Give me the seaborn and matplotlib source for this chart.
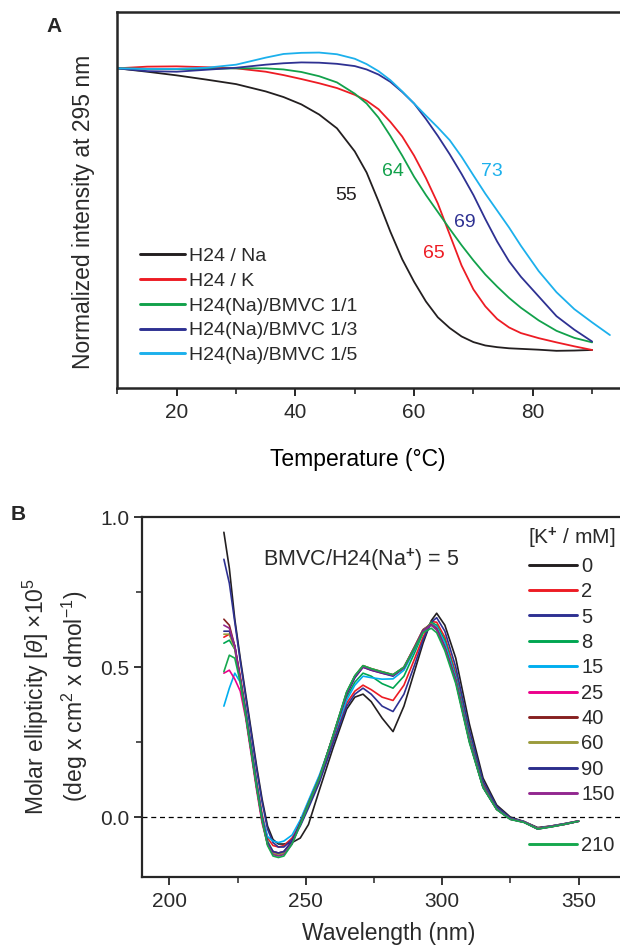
import numpy as np
import pandas as pd
import matplotlib
matplotlib.use("Agg")
import matplotlib.pyplot as plt
from matplotlib.lines import Line2D
from matplotlib.ticker import MultipleLocator, FormatStrFormatter
import seaborn as sns

# ---------------- Panel A data (normalized intensity at 295 nm) ----------------
temp_c = [10, 15, 20, 25, 30, 35, 38, 41, 44, 47, 50, 52, 54, 56, 58, 60, 62, 64,
          66, 68, 70, 72, 74, 76, 78, 81, 84, 87, 90, 93]
a_names = ["H24 / Na", "H24 / K", "H24(Na)/BMVC 1/1", "H24(Na)/BMVC 1/3",
           "H24(Na)/BMVC 1/5"]
a_colors = ["#231f20", "#ed1c24", "#12a14b", "#2e3192", "#1cb0ec"]
h24_na = [1.0, 0.988, 0.975, 0.96, 0.944, 0.918, 0.898, 0.872, 0.836, 0.787,
          0.705, 0.63, 0.528, 0.42, 0.322, 0.242, 0.172, 0.116, 0.078, 0.048,
          0.028, 0.016, 0.01, 0.006, 0.004, 0.001, -0.003, -0.002, 0.0, None]
h24_k = [1.0, 1.006, 1.007, 1.004, 1.0, 0.988, 0.976, 0.962, 0.947, 0.93, 0.906,
         0.885, 0.855, 0.81, 0.758, 0.69, 0.61, 0.52, 0.41, 0.30, 0.215, 0.155,
         0.11, 0.08, 0.06, 0.042, 0.027, 0.013, 0.0, None]
bmvc_11 = [1.0, 0.998, 0.997, 0.998, 1.0, 1.0, 0.996, 0.987, 0.972, 0.95, 0.91,
           0.875, 0.825, 0.76, 0.69, 0.615, 0.55, 0.49, 0.43, 0.372, 0.318,
           0.268, 0.225, 0.185, 0.15, 0.105, 0.068, 0.043, 0.027, None]
bmvc_13 = [1.0, 0.99, 0.988, 0.995, 1.002, 1.013, 1.018, 1.021, 1.02, 1.016,
           1.008, 0.996, 0.978, 0.952, 0.916, 0.875, 0.82, 0.76, 0.695, 0.625,
           0.55, 0.465, 0.385, 0.315, 0.26, 0.19, 0.12, 0.072, 0.03, None]
bmvc_15 = [1.0, 0.998, 0.998, 1.002, 1.013, 1.038, 1.051, 1.055, 1.056, 1.05,
           1.034, 1.015, 0.99, 0.958, 0.918, 0.875, 0.832, 0.79, 0.745, 0.686,
           0.62, 0.555, 0.495, 0.435, 0.37, 0.28, 0.205, 0.145, 0.098, 0.053]
tm_labels = ["55", "65", "64", "69", "73"]
tm_x = [48.6, 63.3, 56.5, 68.6, 73.1]
tm_y = [0.55, 0.343, 0.632, 0.451, 0.632]

# ---------------- Panel B data (CD spectra) ----------------
wavelength = [220, 222, 224, 226, 228, 230, 232, 234, 236, 238, 240, 242, 245,
              248, 251, 255, 260, 265, 268, 271, 274, 278, 282, 286, 290, 293,
              296, 298, 301, 305, 310, 315, 320, 325, 330, 335, 340, 345, 350]
k_conc = ["0", "2", "5", "8", "15", "25", "40", "60", "90", "150", "210"]
b_colors = ["#231f20", "#ed1c24", "#2e3192", "#00a651", "#00aeef", "#ec008c",
            "#862020", "#9b9b3c", "#2b2e8c", "#92278f", "#16a84e"]
k0 = [0.95, 0.83, 0.66, 0.53, 0.41, 0.29, 0.17, 0.06, -0.03, -0.075, -0.09, -0.09,
      -0.085, -0.07, -0.025, 0.09, 0.23, 0.36, 0.40, 0.41, 0.385, 0.33, 0.285,
      0.37, 0.49, 0.58, 0.655, 0.68, 0.64, 0.53, 0.31, 0.13, 0.04, 0.0, -0.015,
      -0.035, -0.03, -0.022, -0.013]
k2 = [0.60, 0.61, 0.57, 0.47, 0.36, 0.24, 0.12, 0.01, -0.07, -0.095, -0.10, -0.095,
      -0.07, -0.02, 0.04, 0.125, 0.255, 0.38, 0.42, 0.44, 0.425, 0.40, 0.389,
      0.44, 0.53, 0.60, 0.652, 0.65, 0.60, 0.48, 0.27, 0.11, 0.03, -0.005,
      -0.015, -0.037, -0.03, -0.022, -0.013]
k5 = [0.86, 0.78, 0.65, 0.52, 0.40, 0.28, 0.16, 0.05, -0.04, -0.085, -0.10, -0.10,
      -0.075, -0.03, 0.03, 0.115, 0.245, 0.37, 0.41, 0.43, 0.41, 0.37, 0.352,
      0.41, 0.51, 0.59, 0.65, 0.665, 0.62, 0.50, 0.29, 0.12, 0.035, -0.003,
      -0.015, -0.037, -0.03, -0.022, -0.013]
k8 = [0.58, 0.59, 0.56, 0.46, 0.35, 0.23, 0.11, 0.0, -0.08, -0.115, -0.12, -0.115,
      -0.085, -0.025, 0.04, 0.13, 0.265, 0.40, 0.45, 0.48, 0.47, 0.445, 0.43,
      0.47, 0.55, 0.615, 0.65, 0.64, 0.59, 0.47, 0.265, 0.105, 0.028, -0.006,
      -0.016, -0.038, -0.031, -0.023, -0.014]
k15 = [0.37, 0.43, 0.48, 0.45, 0.35, 0.23, 0.11, 0.0, -0.065, -0.08, -0.085, -0.08,
       -0.06, -0.01, 0.055, 0.14, 0.265, 0.39, 0.44, 0.47, 0.465, 0.46, 0.461,
       0.49, 0.56, 0.62, 0.645, 0.635, 0.58, 0.465, 0.26, 0.10, 0.027, -0.006,
       -0.016, -0.038, -0.031, -0.023, -0.014]
k25 = [0.48, 0.49, 0.46, 0.42, 0.33, 0.21, 0.09, -0.02, -0.09, -0.115, -0.12, -0.115,
       -0.08, -0.02, 0.045, 0.13, 0.27, 0.41, 0.465, 0.50, 0.49, 0.48, 0.472,
       0.50, 0.57, 0.625, 0.642, 0.63, 0.568, 0.457, 0.255, 0.10, 0.026, -0.007,
       -0.017, -0.039, -0.032, -0.024, -0.014]
k40 = [0.66, 0.64, 0.57, 0.46, 0.34, 0.22, 0.10, -0.01, -0.09, -0.12, -0.125, -0.12,
       -0.085, -0.02, 0.045, 0.13, 0.27, 0.415, 0.47, 0.505, 0.495, 0.485, 0.475,
       0.50, 0.57, 0.625, 0.645, 0.628, 0.566, 0.455, 0.254, 0.10, 0.026, -0.007,
       -0.017, -0.039, -0.032, -0.024, -0.014]
k60 = [0.61, 0.61, 0.56, 0.45, 0.34, 0.22, 0.10, -0.01, -0.09, -0.12, -0.125, -0.12,
       -0.085, -0.02, 0.045, 0.13, 0.27, 0.415, 0.47, 0.505, 0.495, 0.484, 0.474,
       0.50, 0.568, 0.624, 0.644, 0.627, 0.565, 0.455, 0.254, 0.10, 0.026, -0.007,
       -0.017, -0.039, -0.032, -0.024, -0.014]
k90 = [0.62, 0.62, 0.57, 0.46, 0.35, 0.23, 0.11, 0.0, -0.085, -0.115, -0.12, -0.115,
       -0.08, -0.02, 0.045, 0.13, 0.268, 0.41, 0.465, 0.50, 0.49, 0.48, 0.47,
       0.497, 0.566, 0.622, 0.642, 0.626, 0.565, 0.455, 0.254, 0.10, 0.026,
       -0.007, -0.017, -0.04, -0.032, -0.024, -0.014]
k150 = [0.64, 0.63, 0.57, 0.46, 0.34, 0.22, 0.10, -0.01, -0.09, -0.125, -0.13,
        -0.125, -0.09, -0.025, 0.045, 0.13, 0.27, 0.415, 0.47, 0.502, 0.492,
        0.482, 0.473, 0.498, 0.565, 0.62, 0.64, 0.624, 0.562, 0.452, 0.252, 0.10,
        0.026, -0.007, -0.017, -0.04, -0.032, -0.024, -0.014]
k210 = [0.485, 0.54, 0.53, 0.45, 0.34, 0.22, 0.10, -0.01, -0.095, -0.13, -0.135,
        -0.13, -0.09, -0.025, 0.045, 0.13, 0.272, 0.418, 0.472, 0.505, 0.495,
        0.484, 0.475, 0.50, 0.565, 0.615, 0.63, 0.615, 0.555, 0.445, 0.248, 0.098,
        0.025, -0.008, -0.018, -0.04, -0.033, -0.024, -0.014]

# ---------------- build long tables ----------------
a_series = [h24_na, h24_k, bmvc_11, bmvc_13, bmvc_15]
df_a = pd.concat([pd.DataFrame({"T": temp_c, "I": vals, "sample": name})
                  for name, vals in zip(a_names, a_series)], ignore_index=True)
df_a["I"] = pd.to_numeric(df_a["I"])
df_a = df_a.dropna()

b_series = [k0, k2, k5, k8, k15, k25, k40, k60, k90, k150, k210]
df_b = pd.concat([pd.DataFrame({"wl": wavelength, "theta": vals, "K": c})
                  for c, vals in zip(k_conc, b_series)], ignore_index=True)

# ---------------- style ----------------
sns.set_style("ticks")
plt.rcParams["font.family"] = ["Liberation Sans", "DejaVu Sans"]
plt.rcParams["mathtext.fontset"] = "custom"
plt.rcParams["mathtext.rm"] = "Liberation Sans"
plt.rcParams["mathtext.it"] = "Liberation Sans:italic"
plt.rcParams["mathtext.bf"] = "Liberation Sans:bold"
txt = "#2a2a2a"

fig = plt.figure(figsize=(6.2, 9.47), dpi=100)
W, H = 620.0, 947.0

# ---------------- Panel A ----------------
axA = fig.add_axes([117.4 / W, 1 - 388 / H, (620 - 117.4) / W, (388 - 12) / H])
sns.lineplot(data=df_a, x="T", y="I", hue="sample", hue_order=a_names,
             palette=a_colors, estimator=None, sort=False, legend=False,
             linewidth=1.3, ax=axA)
axA.set_xlim(10, 94.7)
axA.set_ylim(-0.135, 1.2)
axA.set_yticks([])
axA.xaxis.set_major_locator(MultipleLocator(20))
axA.xaxis.set_minor_locator(MultipleLocator(10))
axA.tick_params(axis="x", which="major", length=6, width=1.4, labelsize=15,
                labelcolor=txt, pad=5, direction="out")
axA.tick_params(axis="x", which="minor", length=4, width=1.2, direction="out")
for s in ["left", "top", "bottom"]:
    axA.spines[s].set_linewidth(1.8)
axA.spines["right"].set_visible(False)
axA.set_xlabel("Temperature (°C)", fontsize=16.5, color="black")
axA.xaxis.set_label_coords(0.479, -0.191)
axA.xaxis.label.set_va("center")
axA.set_ylabel("Normalized intensity at 295 nm", fontsize=16.5, color=txt)
axA.yaxis.set_label_coords(-0.0684, 0.469)
axA.yaxis.label.set_va("center")

for lab, x, y, c in zip(tm_labels, tm_x, tm_y, a_colors):
    axA.text(x, y, lab, color=c, fontsize=14, ha="center", va="center")

hA = [Line2D([], [], color=c, lw=2.1) for c in a_colors]
legA = axA.legend(hA, a_names, loc="upper left", bbox_to_anchor=(0.045, 0.374),
                  frameon=False, fontsize=14, handlelength=2.3, handletextpad=0.2,
                  labelspacing=0.37, borderaxespad=0, borderpad=0)
for t in legA.get_texts():
    t.set_color(txt)

fig.text(54 / W, 1 - 27 / H, "A", fontsize=15, fontweight="bold", ha="center",
         va="center")

# ---------------- Panel B ----------------
axB = fig.add_axes([141.5 / W, 1 - 877 / H, (620 - 141.5) / W, (877 - 517.3) / H])
sns.lineplot(data=df_b, x="wl", y="theta", hue="K", hue_order=k_conc,
             palette=b_colors, estimator=None, sort=False, legend=False,
             linewidth=1.2, ax=axB)
axB.axhline(0, color="black", lw=0.9, ls=(0, (4, 3)), zorder=0.5)
axB.set_xlim(189.8, 365.2)
axB.set_ylim(-0.2, 1.0)
axB.xaxis.set_major_locator(MultipleLocator(50))
axB.xaxis.set_minor_locator(MultipleLocator(25))
axB.yaxis.set_major_locator(MultipleLocator(0.5))
axB.yaxis.set_minor_locator(MultipleLocator(0.25))
axB.yaxis.set_major_formatter(FormatStrFormatter("%.1f"))
axB.tick_params(which="major", length=6, width=1.3, labelsize=15,
                labelcolor=txt, direction="out")
axB.tick_params(axis="x", which="major", pad=5)
axB.tick_params(axis="y", which="major", pad=3)
axB.tick_params(which="minor", length=4, width=1.1, direction="out")
for s in ["left", "top", "bottom"]:
    axB.spines[s].set_linewidth(1.6)
axB.spines["right"].set_visible(False)
axB.set_xlabel("Wavelength (nm)", fontsize=16.5, color=txt)
axB.xaxis.set_label_coords(0.517, -0.156)
axB.xaxis.label.set_va("center")
axB.set_ylabel("Molar ellipticity [$\\it{\\theta}$] ×10$^5$\n"
               "(deg x cm$^2$ x dmol$^{-1}$)", fontsize=16.5, color=txt,
               linespacing=1.35)
axB.yaxis.set_label_coords(-0.180, 0.503)
axB.yaxis.label.set_va("center")

axB.text(234.3, 0.858, "BMVC/H24(Na$^{\\mathbf{+}}$) = 5", fontsize=15.5,
         color=txt, ha="left", va="center")

hB = [Line2D([], [], color=c, lw=2.1) for c in b_colors]
handles_b = hB[:10] + [Line2D([], [], color="none")] + hB[10:]
labels_b = k_conc[:10] + [""] + k_conc[10:]
legB = axB.legend(handles_b, labels_b, loc="upper left",
                  bbox_to_anchor=(0.808, 0.978), frameon=False, fontsize=14.5,
                  title="[K$^{\\mathbf{+}}$ / mM]", title_fontsize=15,
                  handlelength=2.4, handletextpad=0.2, labelspacing=0.315,
                  borderaxespad=0, borderpad=0)
for t in legB.get_texts():
    t.set_color(txt)
legB.get_title().set_color(txt)

fig.text(18 / W, 1 - 515 / H, "B", fontsize=15, fontweight="bold", ha="center",
         va="center")

fig.savefig("out.png", dpi=100)
